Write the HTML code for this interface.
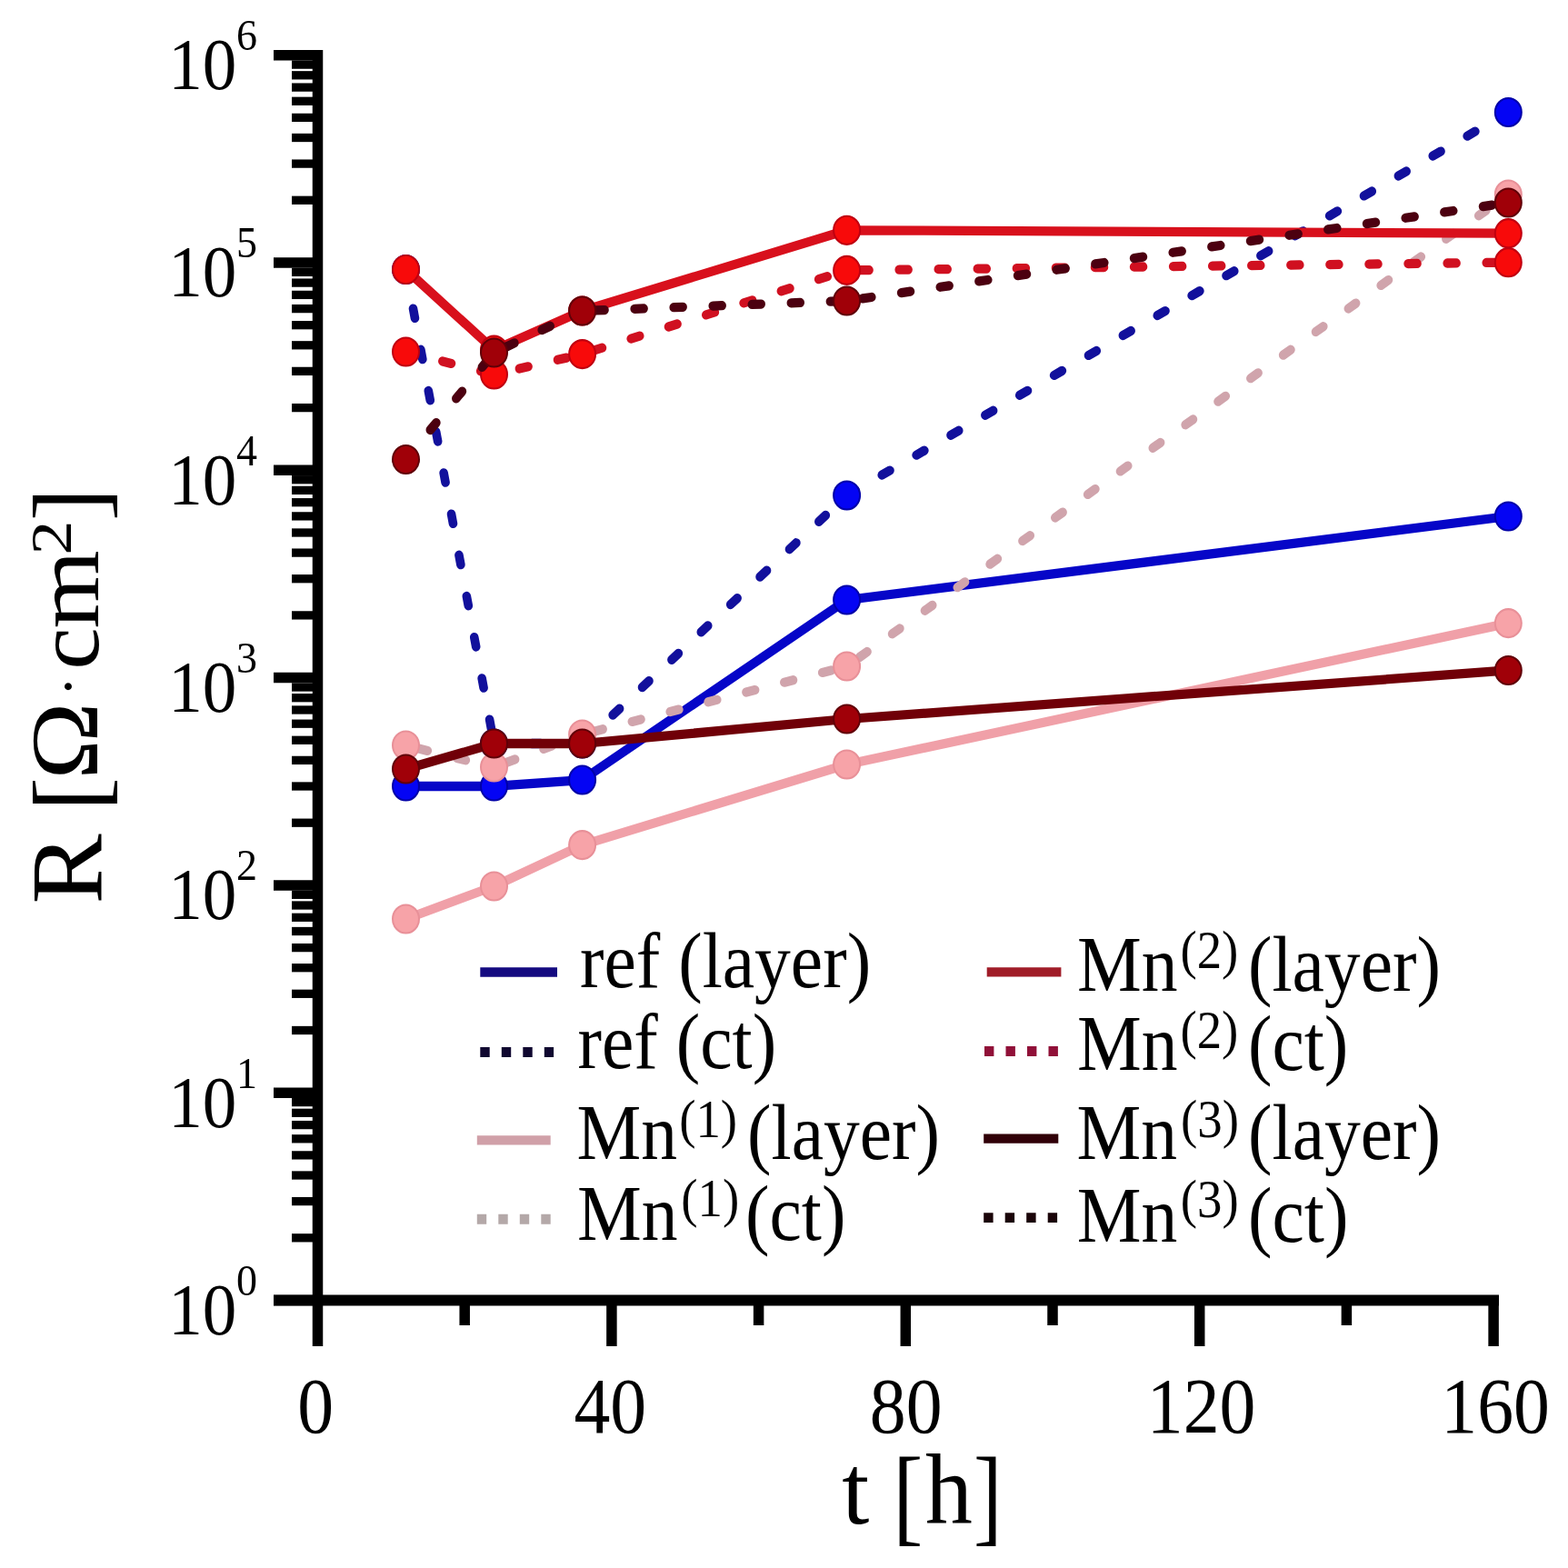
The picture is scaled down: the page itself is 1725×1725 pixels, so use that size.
<!DOCTYPE html><html><head><meta charset="utf-8"><title>R vs t</title><style>html,body{margin:0;padding:0;background:#fff;overflow:hidden;}svg{display:block;}text{font-family:"Liberation Serif","Times New Roman",serif;fill:#000;}</style></head><body>
<svg width="1725" height="1725" viewBox="0 0 1725 1725">
<rect width="1725" height="1725" fill="#fff"/>
<g stroke="#000" fill="none">
<line x1="349.5" y1="55" x2="349.5" y2="1436" stroke-width="11.5"/>
<line x1="301" y1="1430.5" x2="1649" y2="1430.5" stroke-width="12"/>
<line x1="301" y1="1430.5" x2="349.5" y2="1430.5" stroke-width="11.5"/>
<line x1="321" y1="1361.8" x2="349.5" y2="1361.8" stroke-width="9.3"/>
<line x1="321" y1="1321.6" x2="349.5" y2="1321.6" stroke-width="9.3"/>
<line x1="321" y1="1293.0" x2="349.5" y2="1293.0" stroke-width="9.3"/>
<line x1="321" y1="1270.9" x2="349.5" y2="1270.9" stroke-width="9.3"/>
<line x1="321" y1="1252.8" x2="349.5" y2="1252.8" stroke-width="9.3"/>
<line x1="321" y1="1237.6" x2="349.5" y2="1237.6" stroke-width="9.3"/>
<line x1="321" y1="1224.3" x2="349.5" y2="1224.3" stroke-width="9.3"/>
<line x1="321" y1="1212.6" x2="349.5" y2="1212.6" stroke-width="9.3"/>
<line x1="301" y1="1202.2" x2="349.5" y2="1202.2" stroke-width="11.5"/>
<line x1="321" y1="1133.5" x2="349.5" y2="1133.5" stroke-width="9.3"/>
<line x1="321" y1="1093.3" x2="349.5" y2="1093.3" stroke-width="9.3"/>
<line x1="321" y1="1064.7" x2="349.5" y2="1064.7" stroke-width="9.3"/>
<line x1="321" y1="1042.6" x2="349.5" y2="1042.6" stroke-width="9.3"/>
<line x1="321" y1="1024.5" x2="349.5" y2="1024.5" stroke-width="9.3"/>
<line x1="321" y1="1009.3" x2="349.5" y2="1009.3" stroke-width="9.3"/>
<line x1="321" y1="996.0" x2="349.5" y2="996.0" stroke-width="9.3"/>
<line x1="321" y1="984.3" x2="349.5" y2="984.3" stroke-width="9.3"/>
<line x1="301" y1="973.9" x2="349.5" y2="973.9" stroke-width="11.5"/>
<line x1="321" y1="905.2" x2="349.5" y2="905.2" stroke-width="9.3"/>
<line x1="321" y1="865.0" x2="349.5" y2="865.0" stroke-width="9.3"/>
<line x1="321" y1="836.4" x2="349.5" y2="836.4" stroke-width="9.3"/>
<line x1="321" y1="814.3" x2="349.5" y2="814.3" stroke-width="9.3"/>
<line x1="321" y1="796.2" x2="349.5" y2="796.2" stroke-width="9.3"/>
<line x1="321" y1="781.0" x2="349.5" y2="781.0" stroke-width="9.3"/>
<line x1="321" y1="767.7" x2="349.5" y2="767.7" stroke-width="9.3"/>
<line x1="321" y1="756.0" x2="349.5" y2="756.0" stroke-width="9.3"/>
<line x1="301" y1="745.6" x2="349.5" y2="745.6" stroke-width="11.5"/>
<line x1="321" y1="676.9" x2="349.5" y2="676.9" stroke-width="9.3"/>
<line x1="321" y1="636.7" x2="349.5" y2="636.7" stroke-width="9.3"/>
<line x1="321" y1="608.1" x2="349.5" y2="608.1" stroke-width="9.3"/>
<line x1="321" y1="586.0" x2="349.5" y2="586.0" stroke-width="9.3"/>
<line x1="321" y1="567.9" x2="349.5" y2="567.9" stroke-width="9.3"/>
<line x1="321" y1="552.7" x2="349.5" y2="552.7" stroke-width="9.3"/>
<line x1="321" y1="539.4" x2="349.5" y2="539.4" stroke-width="9.3"/>
<line x1="321" y1="527.7" x2="349.5" y2="527.7" stroke-width="9.3"/>
<line x1="301" y1="517.3" x2="349.5" y2="517.3" stroke-width="11.5"/>
<line x1="321" y1="448.6" x2="349.5" y2="448.6" stroke-width="9.3"/>
<line x1="321" y1="408.4" x2="349.5" y2="408.4" stroke-width="9.3"/>
<line x1="321" y1="379.8" x2="349.5" y2="379.8" stroke-width="9.3"/>
<line x1="321" y1="357.7" x2="349.5" y2="357.7" stroke-width="9.3"/>
<line x1="321" y1="339.6" x2="349.5" y2="339.6" stroke-width="9.3"/>
<line x1="321" y1="324.4" x2="349.5" y2="324.4" stroke-width="9.3"/>
<line x1="321" y1="311.1" x2="349.5" y2="311.1" stroke-width="9.3"/>
<line x1="321" y1="299.4" x2="349.5" y2="299.4" stroke-width="9.3"/>
<line x1="301" y1="289.0" x2="349.5" y2="289.0" stroke-width="11.5"/>
<line x1="321" y1="220.3" x2="349.5" y2="220.3" stroke-width="9.3"/>
<line x1="321" y1="180.1" x2="349.5" y2="180.1" stroke-width="9.3"/>
<line x1="321" y1="151.5" x2="349.5" y2="151.5" stroke-width="9.3"/>
<line x1="321" y1="129.4" x2="349.5" y2="129.4" stroke-width="9.3"/>
<line x1="321" y1="111.3" x2="349.5" y2="111.3" stroke-width="9.3"/>
<line x1="321" y1="96.1" x2="349.5" y2="96.1" stroke-width="9.3"/>
<line x1="321" y1="82.8" x2="349.5" y2="82.8" stroke-width="9.3"/>
<line x1="321" y1="71.1" x2="349.5" y2="71.1" stroke-width="9.3"/>
<line x1="301" y1="60.7" x2="349.5" y2="60.7" stroke-width="11.5"/>
<line x1="349.5" y1="1430.5" x2="349.5" y2="1481" stroke-width="11.5"/>
<line x1="511.2" y1="1430.5" x2="511.2" y2="1458" stroke-width="11.5"/>
<line x1="672.9" y1="1430.5" x2="672.9" y2="1481" stroke-width="11.5"/>
<line x1="834.6" y1="1430.5" x2="834.6" y2="1458" stroke-width="11.5"/>
<line x1="996.3" y1="1430.5" x2="996.3" y2="1481" stroke-width="11.5"/>
<line x1="1158.0" y1="1430.5" x2="1158.0" y2="1458" stroke-width="11.5"/>
<line x1="1319.7" y1="1430.5" x2="1319.7" y2="1481" stroke-width="11.5"/>
<line x1="1481.4" y1="1430.5" x2="1481.4" y2="1458" stroke-width="11.5"/>
<line x1="1643.1" y1="1430.5" x2="1643.1" y2="1481" stroke-width="11.5"/>
</g>
<g transform="matrix(1.0141 0 0 1.0939 185.20 1467.80)"><text x="0" y="0" font-size="74" text-anchor="start" >10</text></g>
<g transform="matrix(1.0000 0 0 1.0742 260.00 1424.80)"><text x="0" y="0" font-size="46" text-anchor="start" >0</text></g>
<g transform="matrix(1.0141 0 0 1.0939 185.20 1239.50)"><text x="0" y="0" font-size="74" text-anchor="start" >10</text></g>
<g transform="matrix(1.0000 0 0 1.0742 260.00 1196.50)"><text x="0" y="0" font-size="46" text-anchor="start" >1</text></g>
<g transform="matrix(1.0141 0 0 1.0939 185.20 1011.20)"><text x="0" y="0" font-size="74" text-anchor="start" >10</text></g>
<g transform="matrix(1.0000 0 0 1.0742 260.00 968.20)"><text x="0" y="0" font-size="46" text-anchor="start" >2</text></g>
<g transform="matrix(1.0141 0 0 1.0939 185.20 782.90)"><text x="0" y="0" font-size="74" text-anchor="start" >10</text></g>
<g transform="matrix(1.0000 0 0 1.0742 260.00 739.90)"><text x="0" y="0" font-size="46" text-anchor="start" >3</text></g>
<g transform="matrix(1.0141 0 0 1.0939 185.20 554.60)"><text x="0" y="0" font-size="74" text-anchor="start" >10</text></g>
<g transform="matrix(1.0000 0 0 1.0742 260.00 511.60)"><text x="0" y="0" font-size="46" text-anchor="start" >4</text></g>
<g transform="matrix(1.0141 0 0 1.0939 185.20 326.30)"><text x="0" y="0" font-size="74" text-anchor="start" >10</text></g>
<g transform="matrix(1.0000 0 0 1.0742 260.00 283.30)"><text x="0" y="0" font-size="46" text-anchor="start" >5</text></g>
<g transform="matrix(1.0141 0 0 1.0939 185.20 98.00)"><text x="0" y="0" font-size="74" text-anchor="start" >10</text></g>
<g transform="matrix(1.0000 0 0 1.0742 260.00 55.00)"><text x="0" y="0" font-size="46" text-anchor="start" >6</text></g>
<g transform="matrix(1.0097 0 0 1.1019 347.30 1575.70)"><text x="0" y="0" font-size="79" text-anchor="middle" >0</text></g>
<g transform="matrix(1.0097 0 0 1.1019 671.30 1575.70)"><text x="0" y="0" font-size="79" text-anchor="middle" >40</text></g>
<g transform="matrix(1.0097 0 0 1.1019 996.65 1575.70)"><text x="0" y="0" font-size="79" text-anchor="middle" >80</text></g>
<g transform="matrix(1.0097 0 0 1.1019 1321.60 1575.70)"><text x="0" y="0" font-size="79" text-anchor="middle" >120</text></g>
<g transform="matrix(1.0097 0 0 1.1019 1645.10 1575.70)"><text x="0" y="0" font-size="79" text-anchor="middle" >160</text></g>
<g transform="matrix(1.0400 0 0 1.0508 926.22 1675.75)"><text x="0" y="0" font-size="104" text-anchor="start" >t</text></g>
<g transform="matrix(0.9565 0 0 1.1326 982.35 1685.34)"><text x="0" y="0" font-size="104" text-anchor="start" >[</text></g>
<g transform="matrix(0.9960 0 0 1.0542 1018.00 1676.20)"><text x="0" y="0" font-size="104" text-anchor="start" >h</text></g>
<g transform="matrix(0.9087 0 0 1.1302 1070.97 1685.18)"><text x="0" y="0" font-size="104" text-anchor="start" >]</text></g>
<g transform="matrix(1.0139 0 0 1.0529 110.71 994.46)"><g transform="rotate(-90)"><text x="0" y="0" font-size="110" text-anchor="start" >R</text></g></g>
<g transform="matrix(1.0110 0 0 1.0160 113.54 892.33)"><g transform="rotate(-90)"><text x="0" y="0" font-size="110" text-anchor="start" >[</text></g></g>
<g transform="matrix(0.9630 0 0 1.0457 107.00 857.87)"><g transform="rotate(-90)"><text x="0" y="0" font-size="110" text-anchor="start" >Ω</text></g></g>
<g transform="matrix(0.6154 0 0 0.6154 97.46 766.38)"><g transform="rotate(-90)"><text x="0" y="0" font-size="110" text-anchor="start" >·</text></g></g>
<g transform="matrix(0.9019 0 0 0.9512 107.50 736.80)"><g transform="rotate(-90)"><text x="0" y="0" font-size="110" text-anchor="start" >c</text></g></g>
<g transform="matrix(0.9192 0 0 1.0073 108.40 691.61)"><g transform="rotate(-90)"><text x="0" y="0" font-size="110" text-anchor="start" >m</text></g></g>
<g transform="matrix(0.9605 0 0 1.1462 78.00 610.44)"><g transform="rotate(-90)"><text x="0" y="0" font-size="66" text-anchor="start" >2</text></g></g>
<g transform="matrix(1.0110 0 0 0.9958 113.54 573.28)"><g transform="rotate(-90)"><text x="0" y="0" font-size="110" text-anchor="start" >]</text></g></g>
<g transform="matrix(0.9950 0 0 1.0900 637.91 1085.80)"><text x="0" y="0" font-size="80" text-anchor="start" >ref (layer)</text></g>
<g transform="matrix(0.9950 0 0 1.0900 635.51 1175.40)"><text x="0" y="0" font-size="80" text-anchor="start" >ref (ct)</text></g>
<g transform="matrix(0.9950 0 0 1.0900 634.61 1275.40)"><text x="0" y="0" font-size="80" text-anchor="start" >Mn</text></g>
<g transform="matrix(1.0963 0 0 1.1733 747.21 1251.47)"><text x="0" y="0" font-size="50" text-anchor="start" >(1)</text></g>
<g transform="matrix(0.9950 0 0 1.0900 822.02 1275.40)"><text x="0" y="0" font-size="80" text-anchor="start" >(layer)</text></g>
<g transform="matrix(0.9950 0 0 1.0900 635.01 1363.50)"><text x="0" y="0" font-size="80" text-anchor="start" >Mn</text></g>
<g transform="matrix(1.0963 0 0 1.1733 749.31 1338.27)"><text x="0" y="0" font-size="50" text-anchor="start" >(1)</text></g>
<g transform="matrix(0.9950 0 0 1.0900 820.02 1363.50)"><text x="0" y="0" font-size="80" text-anchor="start" >(ct)</text></g>
<g transform="matrix(0.9950 0 0 1.0900 1185.01 1090.00)"><text x="0" y="0" font-size="80" text-anchor="start" >Mn</text></g>
<g transform="matrix(1.0963 0 0 1.1733 1298.41 1065.07)"><text x="0" y="0" font-size="50" text-anchor="start" >(2)</text></g>
<g transform="matrix(0.9950 0 0 1.0900 1372.92 1090.00)"><text x="0" y="0" font-size="80" text-anchor="start" >(layer)</text></g>
<g transform="matrix(0.9950 0 0 1.0900 1185.01 1177.00)"><text x="0" y="0" font-size="80" text-anchor="start" >Mn</text></g>
<g transform="matrix(1.0963 0 0 1.1733 1298.41 1152.77)"><text x="0" y="0" font-size="50" text-anchor="start" >(2)</text></g>
<g transform="matrix(0.9950 0 0 1.0900 1372.92 1177.00)"><text x="0" y="0" font-size="80" text-anchor="start" >(ct)</text></g>
<g transform="matrix(0.9950 0 0 1.0900 1184.61 1275.40)"><text x="0" y="0" font-size="80" text-anchor="start" >Mn</text></g>
<g transform="matrix(1.0963 0 0 1.1733 1299.01 1250.87)"><text x="0" y="0" font-size="50" text-anchor="start" >(3)</text></g>
<g transform="matrix(0.9950 0 0 1.0900 1373.02 1275.40)"><text x="0" y="0" font-size="80" text-anchor="start" >(layer)</text></g>
<g transform="matrix(0.9950 0 0 1.0900 1184.81 1365.50)"><text x="0" y="0" font-size="80" text-anchor="start" >Mn</text></g>
<g transform="matrix(1.0963 0 0 1.1733 1298.81 1339.27)"><text x="0" y="0" font-size="50" text-anchor="start" >(3)</text></g>
<g transform="matrix(0.9950 0 0 1.0900 1373.02 1365.50)"><text x="0" y="0" font-size="80" text-anchor="start" >(ct)</text></g>
<g transform="scale(1 1.07)">
<polyline points="446.5,808.41 543.5,808.41 640.6,801.87 931.6,616.82 1659.3,530.84" fill="none" stroke="#0606c8" stroke-width="9.6" stroke-linejoin="round"/>
<circle cx="446.5" cy="808.41" r="14.5" fill="#0404f4" stroke="#0000a8" stroke-width="2"/>
<circle cx="543.5" cy="808.41" r="14.5" fill="#0404f4" stroke="#0000a8" stroke-width="2"/>
<circle cx="640.6" cy="801.87" r="14.5" fill="#0404f4" stroke="#0000a8" stroke-width="2"/>
<circle cx="931.6" cy="616.82" r="14.5" fill="#0404f4" stroke="#0000a8" stroke-width="2"/>
<circle cx="1659.3" cy="530.84" r="14.5" fill="#0404f4" stroke="#0000a8" stroke-width="2"/>
<g fill="none" stroke="#12109c" stroke-width="9.6" stroke-linecap="round" stroke-dasharray="9.90 33.17">
<line x1="446.5" y1="277.10" x2="543.5" y2="764.49" stroke-dashoffset="2.05"/>
<line x1="543.5" y1="764.49" x2="640.6" y2="764.49" stroke-dashoffset="1.45"/>
<line x1="640.6" y1="764.49" x2="931.6" y2="509.35" stroke-dashoffset="41.52"/>
<line x1="931.6" y1="509.35" x2="1659.3" y2="115.42" stroke-dashoffset="42.17"/>
</g>
<circle cx="446.5" cy="277.10" r="14.5" fill="#0404f4" stroke="#0000a8" stroke-width="2"/>
<circle cx="543.5" cy="764.49" r="14.5" fill="#0404f4" stroke="#0000a8" stroke-width="2"/>
<circle cx="640.6" cy="764.49" r="14.5" fill="#0404f4" stroke="#0000a8" stroke-width="2"/>
<circle cx="931.6" cy="509.35" r="14.5" fill="#0404f4" stroke="#0000a8" stroke-width="2"/>
<circle cx="1659.3" cy="115.42" r="14.5" fill="#0404f4" stroke="#0000a8" stroke-width="2"/>
<polyline points="446.5,944.86 543.5,911.21 640.6,868.79 931.6,785.98 1659.3,640.75" fill="none" stroke="#f0a0a8" stroke-width="9.6" stroke-linejoin="round"/>
<circle cx="446.5" cy="944.86" r="14.5" fill="#f7a3a8" stroke="#e89098" stroke-width="2"/>
<circle cx="543.5" cy="911.21" r="14.5" fill="#f7a3a8" stroke="#e89098" stroke-width="2"/>
<circle cx="640.6" cy="868.79" r="14.5" fill="#f7a3a8" stroke="#e89098" stroke-width="2"/>
<circle cx="931.6" cy="785.98" r="14.5" fill="#f7a3a8" stroke="#e89098" stroke-width="2"/>
<circle cx="1659.3" cy="640.75" r="14.5" fill="#f7a3a8" stroke="#e89098" stroke-width="2"/>
<g fill="none" stroke="#d0a4ac" stroke-width="9.6" stroke-linecap="round" stroke-dasharray="9.90 33.17">
<line x1="446.5" y1="766.36" x2="543.5" y2="788.79" stroke-dashoffset="28.52"/>
<line x1="543.5" y1="788.79" x2="640.6" y2="755.14" stroke-dashoffset="28.52"/>
<line x1="640.6" y1="755.14" x2="931.6" y2="685.05" stroke-dashoffset="29.82"/>
<line x1="931.6" y1="685.05" x2="1659.3" y2="200.00" stroke-dashoffset="26.02"/>
</g>
<circle cx="446.5" cy="766.36" r="14.5" fill="#f7a3a8" stroke="#e89098" stroke-width="2"/>
<circle cx="543.5" cy="788.79" r="14.5" fill="#f7a3a8" stroke="#e89098" stroke-width="2"/>
<circle cx="640.6" cy="755.14" r="14.5" fill="#f7a3a8" stroke="#e89098" stroke-width="2"/>
<circle cx="931.6" cy="685.05" r="14.5" fill="#f7a3a8" stroke="#e89098" stroke-width="2"/>
<circle cx="1659.3" cy="200.00" r="14.5" fill="#f7a3a8" stroke="#e89098" stroke-width="2"/>
<polyline points="446.5,277.10 543.5,359.81 640.6,319.63 931.6,236.73 1659.3,239.91" fill="none" stroke="#d8101c" stroke-width="9.6" stroke-linejoin="round"/>
<circle cx="446.5" cy="277.10" r="14.5" fill="#f80a0a" stroke="#c00010" stroke-width="2"/>
<circle cx="543.5" cy="359.81" r="14.5" fill="#f80a0a" stroke="#c00010" stroke-width="2"/>
<circle cx="640.6" cy="319.63" r="14.5" fill="#f80a0a" stroke="#c00010" stroke-width="2"/>
<circle cx="931.6" cy="236.73" r="14.5" fill="#f80a0a" stroke="#c00010" stroke-width="2"/>
<circle cx="1659.3" cy="239.91" r="14.5" fill="#f80a0a" stroke="#c00010" stroke-width="2"/>
<g fill="none" stroke="#d01020" stroke-width="9.6" stroke-linecap="round" stroke-dasharray="9.90 33.17">
<line x1="446.5" y1="361.68" x2="543.5" y2="385.05" stroke-dashoffset="1.55"/>
<line x1="543.5" y1="385.05" x2="640.6" y2="364.11" stroke-dashoffset="14.52"/>
<line x1="640.6" y1="364.11" x2="931.6" y2="277.94" stroke-dashoffset="30.22"/>
<line x1="931.6" y1="277.94" x2="1659.3" y2="269.81" stroke-dashoffset="28.52"/>
</g>
<circle cx="446.5" cy="361.68" r="14.5" fill="#f80a0a" stroke="#c00010" stroke-width="2"/>
<circle cx="543.5" cy="385.05" r="14.5" fill="#f80a0a" stroke="#c00010" stroke-width="2"/>
<circle cx="640.6" cy="364.11" r="14.5" fill="#f80a0a" stroke="#c00010" stroke-width="2"/>
<circle cx="931.6" cy="277.94" r="14.5" fill="#f80a0a" stroke="#c00010" stroke-width="2"/>
<circle cx="1659.3" cy="269.81" r="14.5" fill="#f80a0a" stroke="#c00010" stroke-width="2"/>
<polyline points="446.5,790.65 543.5,764.49 640.6,764.49 931.6,739.25 1659.3,689.25" fill="none" stroke="#700008" stroke-width="9.6" stroke-linejoin="round"/>
<circle cx="446.5" cy="790.65" r="14.5" fill="#a00008" stroke="#600008" stroke-width="2"/>
<circle cx="543.5" cy="764.49" r="14.5" fill="#a00008" stroke="#600008" stroke-width="2"/>
<circle cx="640.6" cy="764.49" r="14.5" fill="#a00008" stroke="#600008" stroke-width="2"/>
<circle cx="931.6" cy="739.25" r="14.5" fill="#a00008" stroke="#600008" stroke-width="2"/>
<circle cx="1659.3" cy="689.25" r="14.5" fill="#a00008" stroke="#600008" stroke-width="2"/>
<g fill="none" stroke="#4c0010" stroke-width="9.6" stroke-linecap="round" stroke-dasharray="9.90 33.17">
<line x1="446.5" y1="472.43" x2="543.5" y2="362.62" stroke-dashoffset="2.55"/>
<line x1="543.5" y1="362.62" x2="640.6" y2="319.63" stroke-dashoffset="28.52"/>
<line x1="640.6" y1="319.63" x2="931.6" y2="309.35" stroke-dashoffset="28.52"/>
<line x1="931.6" y1="309.35" x2="1659.3" y2="208.41" stroke-dashoffset="25.52"/>
</g>
<circle cx="446.5" cy="472.43" r="14.5" fill="#a00008" stroke="#600008" stroke-width="2"/>
<circle cx="543.5" cy="362.62" r="14.5" fill="#a00008" stroke="#600008" stroke-width="2"/>
<circle cx="640.6" cy="319.63" r="14.5" fill="#a00008" stroke="#600008" stroke-width="2"/>
<circle cx="931.6" cy="309.35" r="14.5" fill="#a00008" stroke="#600008" stroke-width="2"/>
<circle cx="1659.3" cy="208.41" r="14.5" fill="#a00008" stroke="#600008" stroke-width="2"/>
<line x1="528.3" y1="999.53" x2="613.0" y2="999.53" stroke="#140a80" stroke-width="9.6"/>
<line x1="528.3" y1="1081.78" x2="609.1" y2="1081.78" stroke="#100830" stroke-width="10.2" stroke-dasharray="10.4 13.1"/>
<line x1="524.8" y1="1172.24" x2="605.7" y2="1172.24" stroke="#d0a0a8" stroke-width="9.6"/>
<line x1="524.8" y1="1253.55" x2="605.7" y2="1253.55" stroke="#b4a8a8" stroke-width="10.2" stroke-dasharray="10.4 13.1"/>
<line x1="1085.7" y1="999.35" x2="1167.4" y2="999.35" stroke="#a01c28" stroke-width="9.6"/>
<line x1="1083.0" y1="1080.84" x2="1163.9" y2="1080.84" stroke="#901038" stroke-width="10.2" stroke-dasharray="10.4 13.1"/>
<line x1="1082.2" y1="1170.65" x2="1164.3" y2="1170.65" stroke="#300008" stroke-width="9.6"/>
<line x1="1082.2" y1="1251.96" x2="1163.9" y2="1251.96" stroke="#1a0408" stroke-width="10.2" stroke-dasharray="10.4 13.1"/>
</g>
</svg></body></html>
